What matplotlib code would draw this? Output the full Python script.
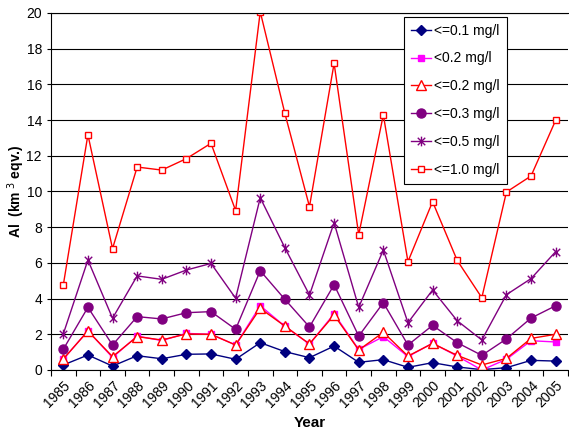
import numpy as np
import matplotlib
matplotlib.use("Agg")
import matplotlib.pyplot as plt
from matplotlib.path import Path

plt.rcParams["font.family"] = ["Liberation Sans", "DejaVu Sans"]

# Data
years = list(range(1985, 2006))
le_01 = [0.28, 0.84, 0.22, 0.80, 0.63, 0.88, 0.90, 0.60, 1.53, 1.03, 0.69,
         1.34, 0.43, 0.58, 0.15, 0.41, 0.17, 0.02, 0.13, 0.54, 0.50]
lt_02 = [0.60, 2.20, 0.70, 1.90, 1.65, 2.05, 2.00, 1.40, 3.60, 2.45, 1.45,
         3.15, 1.15, 1.87, 0.75, 1.50, 0.78, 0.00, 0.60, 1.64, 1.57]
le_02 = [0.62, 2.18, 0.75, 1.87, 1.68, 2.02, 2.00, 1.40, 3.45, 2.46, 1.46,
         3.08, 1.12, 2.11, 0.78, 1.49, 0.82, 0.28, 0.65, 1.77, 2.00]
le_03 = [1.16, 3.51, 1.40, 2.99, 2.86, 3.21, 3.27, 2.28, 5.56, 3.96, 2.41,
         4.78, 1.90, 3.77, 1.40, 2.50, 1.53, 0.82, 1.74, 2.91, 3.60]
le_05 = [2.02, 6.16, 2.90, 5.27, 5.08, 5.60, 5.97, 4.02, 9.65, 6.85, 4.20,
         8.25, 3.51, 6.72, 2.65, 4.48, 2.76, 1.68, 4.22, 5.12, 6.63]
le_10 = [4.76, 13.18, 6.80, 11.37, 11.20, 11.84, 12.70, 8.93, 20.07, 14.38, 9.15,
         17.18, 7.58, 14.29, 6.07, 9.43, 6.14, 4.05, 9.97, 10.87, 13.99]

labels = ["<=0.1 mg/l", "<0.2 mg/l", "<=0.2 mg/l", "<=0.3 mg/l", "<=0.5 mg/l", "<=1.0 mg/l"]

# star marker: x with a vertical bar
star = Path([(-1, -1), (1, 1), (-1, 1), (1, -1), (0, -1.3), (0, 1.3)],
            [Path.MOVETO, Path.LINETO, Path.MOVETO, Path.LINETO, Path.MOVETO, Path.LINETO])

fig = plt.figure(figsize=(5.69, 4.33), dpi=100)
ax = fig.add_axes([0.0896, 0.1455, 0.9086, 0.8245])

x = np.arange(len(years)) + 0.5

ax.plot(x, le_01, color="#000080", lw=1, marker="D", ms=5, mfc="#000080", mec="#000080", label=labels[0])
ax.plot(x, lt_02, color="#FF00FF", lw=1, marker="s", ms=4.5, mfc="#FF00FF", mec="#FF00FF", label=labels[1])
ax.plot(x, le_02, color="#FF0000", lw=1, marker="^", ms=7, mfc="white", mec="#FF0000", mew=1, label=labels[2])
ax.plot(x, le_03, color="#800080", lw=1, marker="o", ms=6.5, mfc="#800080", mec="#800080", label=labels[3])
ax.plot(x, le_05, color="#800080", lw=1, marker=star, ms=7, mec="#800080", mew=1, label=labels[4])
ax.plot(x, le_10, color="#FF0000", lw=1, marker="s", ms=5, mfc="white", mec="#FF0000", mew=1, label=labels[5])

ax.set_xlim(0, len(years))
ax.set_ylim(0, 20)
ax.set_yticks(range(0, 21, 2))
ax.yaxis.grid(True, color="black", lw=0.8)
ax.set_axisbelow(True)

ax.set_xticks(range(0, len(years) + 1))
ax.set_xticklabels([])
ax.set_xticks(x, minor=True)
ax.set_xticklabels([str(y) for y in years], minor=True, rotation=45, ha="right",
                   rotation_mode="anchor", fontsize=10)
ax.tick_params(axis="x", which="minor", length=0, pad=6)
ax.tick_params(axis="x", which="major", length=4, direction="out", width=0.8)
ax.tick_params(axis="y", length=3, direction="out", labelsize=10, width=0.8)

ax.spines["right"].set_visible(False)
for side in ["left", "bottom", "top"]:
    ax.spines[side].set_color("black")
    ax.spines[side].set_linewidth(0.8)

ax.set_xlabel("Year", fontsize=11, fontweight="bold", labelpad=4)
ax.set_ylabel("Al  (km$^{\\ 3}$ eqv.)", fontsize=10, fontweight="bold")
ax.yaxis.set_label_coords(-0.047, 0.5)

leg = ax.legend(loc="upper left", bbox_to_anchor=(0.683, 0.99), fancybox=False,
                edgecolor="black", framealpha=1, fontsize=10, labelspacing=1.0,
                handlelength=1.45, handletextpad=0.2, borderpad=0.5, borderaxespad=0)
leg.get_frame().set_linewidth(0.8)

fig.savefig("out.png", dpi=100)
